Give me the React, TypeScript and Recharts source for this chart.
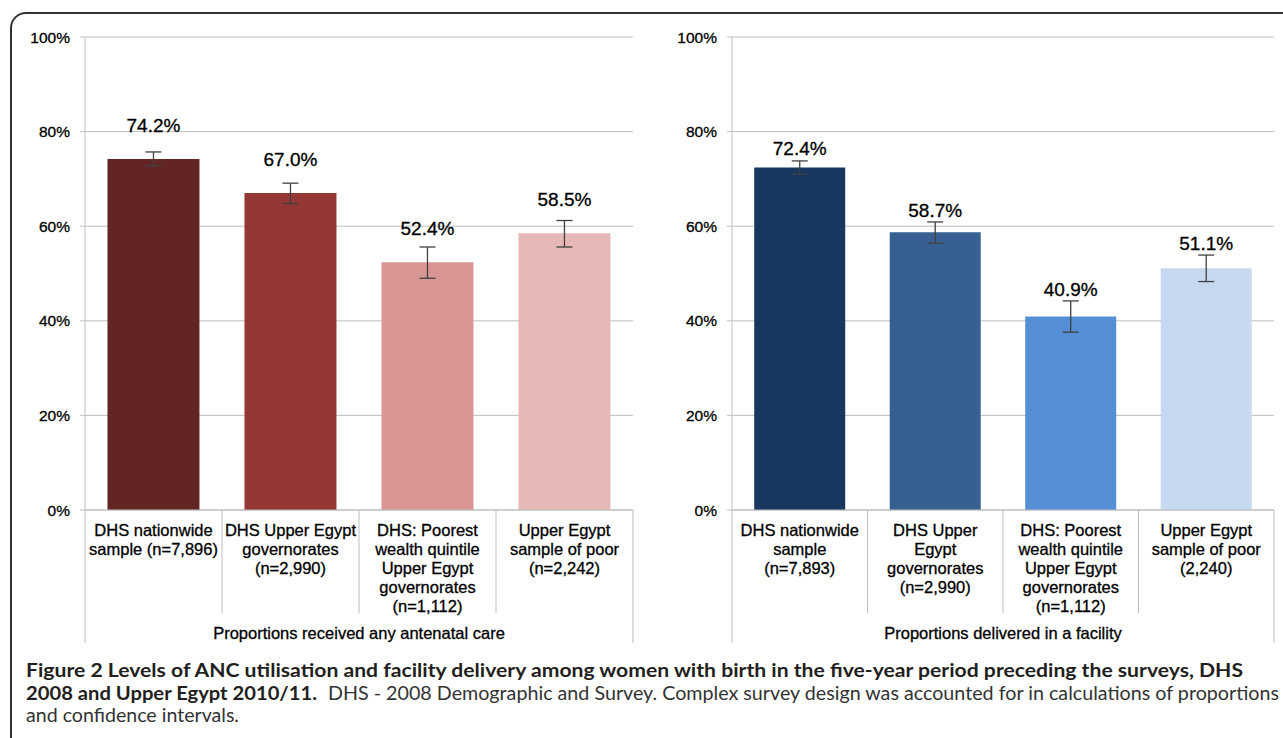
import React from 'react';
import { BarChart, Bar, XAxis, YAxis, CartesianGrid, Cell, ErrorBar, LabelList, Label } from 'recharts';

// ---------- data ----------
const ancCategories = [
  'DHS nationwide\nsample (n=7,896)',
  'DHS Upper Egypt\ngovernorates\n(n=2,990)',
  'DHS: Poorest\nwealth quintile\nUpper Egypt\ngovernorates\n(n=1,112)',
  'Upper Egypt\nsample of poor\n(n=2,242)',
];
const ancValues = [74.2, 67.0, 52.4, 58.5];
const ancLower = [72.8, 64.8, 49.0, 55.6];
const ancUpper = [75.7, 69.1, 55.6, 61.2];
const ancColors = ['#632523', '#953735', '#D99694', '#E6B9B8'];
const ancTitle = 'Proportions received any antenatal care';

const facCategories = [
  'DHS nationwide\nsample\n(n=7,893)',
  'DHS Upper\nEgypt\ngovernorates\n(n=2,990)',
  'DHS: Poorest\nwealth quintile\nUpper Egypt\ngovernorates\n(n=1,112)',
  'Upper Egypt\nsample of poor\n(2,240)',
];
const facValues = [72.4, 58.7, 40.9, 51.1];
const facLower = [71.0, 56.4, 37.6, 48.3];
const facUpper = [73.8, 60.9, 44.2, 53.9];
const facColors = ['#17375E', '#376092', '#558ED5', '#C6D9F1'];
const facTitle = 'Proportions delivered in a facility';

const yTicks = [0, 20, 40, 60, 80, 100];

const captionBold1 =
  'Figure 2 Levels of ANC utilisation and facility delivery among women with birth in the five-year period preceding the surveys, DHS';
const captionBold2 = '2008 and Upper Egypt 2010/11.';
const captionReg2 =
  'DHS - 2008 Demographic and Survey. Complex survey design was accounted for in calculations of proportions';
const captionReg3 = 'and confidence intervals.';

// ---------- styles ----------
const FONT = "'Liberation Sans', Arial, sans-serif";
const CAPFONT = "Lato, 'Open Sans', sans-serif";
const GRID = '#BFBFBF';
const CHART_H = 650;
const TOP = 37;
const XAXIS_H = 140;
const YAXIS_W = 85;
const TEXT_STROKE = 0.3;

type PanelProps = {
  categories: string[];
  values: number[];
  lower: number[];
  upper: number[];
  colors: string[];
  title: string;
  width: number;
  left: number;
  marginRight: number;
  barLift: number;
  errLift: number;
};

function Panel(p: PanelProps) {
  const data = p.categories.map((name, i) => ({
    name,
    value: p.values[i],
    err: [+(p.values[i] - p.lower[i]).toFixed(2), +(p.upper[i] - p.values[i]).toFixed(2)],
  }));
  const n = data.length;
  const plotW = p.width - YAXIS_W - p.marginRight;
  const step = plotW / n;

  const renderTick = (props: any) => {
    const { x, y, payload, index } = props;
    const lines = String(payload.value).split('\n');
    const l = x - step / 2;
    const r = x + step / 2;
    return (
      <g>
        <line x1={l} x2={l} y1={y} y2={index === 0 ? y + 133 : y + 103} stroke={GRID} strokeWidth={1} />
        {index === n - 1 && <line x1={r} x2={r} y1={y} y2={y + 133} stroke={GRID} strokeWidth={1} />}
        <text
          x={x}
          textAnchor="middle"
          fontFamily={FONT}
          fontSize={16.5}
          fill="#000"
          stroke="#000"
          strokeWidth={TEXT_STROKE}
        >
          {lines.map((ln, i) => (
            <tspan key={i} x={x} y={y + 26 + i * 19}>
              {ln}
            </tspan>
          ))}
        </text>
      </g>
    );
  };

  const renderLabel = (props: any) => {
    const { x, y, width, height, value, index } = props;
    const v = Number(value);
    const pxPerUnit = Number(height) / v;
    const errTop = Number(y) - (p.upper[index] - v) * pxPerUnit;
    const center = Math.min(Number(y) - p.barLift, errTop - p.errLift);
    return (
      <text
        x={Number(x) + Number(width) / 2}
        y={center + 7}
        textAnchor="middle"
        fontFamily={FONT}
        fontSize={19}
        fill="#000"
        stroke="#000"
        strokeWidth={TEXT_STROKE}
      >
        {v.toFixed(1)}%
      </text>
    );
  };

  return (
    <div style={{ position: 'absolute', left: p.left, top: 0 }}>
      <BarChart
        width={p.width}
        height={CHART_H}
        data={data}
        margin={{ top: TOP, right: p.marginRight, left: 0, bottom: 0 }}
        barCategoryGap="16.4%"
      >
        <CartesianGrid vertical={false} stroke={GRID} strokeWidth={1} />
        <XAxis
          dataKey="name"
          interval={0}
          height={XAXIS_H}
          tickLine={false}
          tickSize={0}
          tickMargin={0}
          axisLine={{ stroke: GRID }}
          tick={renderTick}
        >
          <Label
            value={p.title}
            position="insideBottom"
            offset={11}
            fill="#000"
            stroke="#000"
            strokeWidth={TEXT_STROKE}
            fontFamily={FONT}
            fontSize={16.5}
          />
        </XAxis>
        <YAxis
          type="number"
          domain={[0, 100]}
          ticks={yTicks}
          interval={0}
          width={YAXIS_W}
          tickSize={5}
          tickMargin={10}
          tickFormatter={(v: number) => `${v}%`}
          axisLine={{ stroke: GRID }}
          tickLine={{ stroke: GRID }}
          tick={{ fill: '#000', stroke: '#000', strokeWidth: TEXT_STROKE, fontSize: 15.5, fontFamily: FONT }}
        />
        <Bar dataKey="value" isAnimationActive={false}>
          {data.map((_, i) => (
            <Cell key={i} fill={p.colors[i]} />
          ))}
          <ErrorBar
            dataKey="err"
            direction="y"
            width={8}
            stroke="#404040"
            strokeWidth={1.3}
            isAnimationActive={false}
          />
          <LabelList dataKey="value" content={renderLabel} />
        </Bar>
      </BarChart>
    </div>
  );
}

export default function App() {
  return (
    <div
      style={{
        position: 'absolute',
        left: 0,
        top: 0,
        width: 1283,
        height: 738,
        overflow: 'hidden',
        background: '#fff',
      }}
    >
      <svg width={1283} height={738} style={{ position: 'absolute', left: 0, top: 0 }}>
        <rect x={11} y={13} width={1400} height={900} rx={15} ry={15} fill="none" stroke="#333" strokeWidth={2} />
        <text x={26} y={677} fontFamily={CAPFONT} fontWeight="bold" fontSize={18.5} fill="#231F20" textLength={1217} lengthAdjust="spacingAndGlyphs">
          {captionBold1}
        </text>
        <text x={26} y={699.5} fontFamily={CAPFONT} fontWeight="bold" fontSize={18.5} fill="#231F20" textLength={291} lengthAdjust="spacingAndGlyphs">
          {captionBold2}
        </text>
        <text x={328} y={699.5} fontFamily={CAPFONT} fontSize={18.5} fill="#333" textLength={951} lengthAdjust="spacingAndGlyphs">
          {captionReg2}
        </text>
        <text x={26} y={722} fontFamily={CAPFONT} fontSize={18.5} fill="#333" textLength={213} lengthAdjust="spacingAndGlyphs">
          {captionReg3}
        </text>
      </svg>
      <Panel
        categories={ancCategories}
        values={ancValues}
        lower={ancLower}
        upper={ancUpper}
        colors={ancColors}
        title={ancTitle}
        width={640}
        left={0}
        marginRight={7}
        barLift={34}
        errLift={0}
      />
      <Panel
        categories={facCategories}
        values={facValues}
        lower={facLower}
        upper={facUpper}
        colors={facColors}
        title={facTitle}
        width={636}
        left={647}
        marginRight={9}
        barLift={20}
        errLift={12}
      />
    </div>
  );
}
